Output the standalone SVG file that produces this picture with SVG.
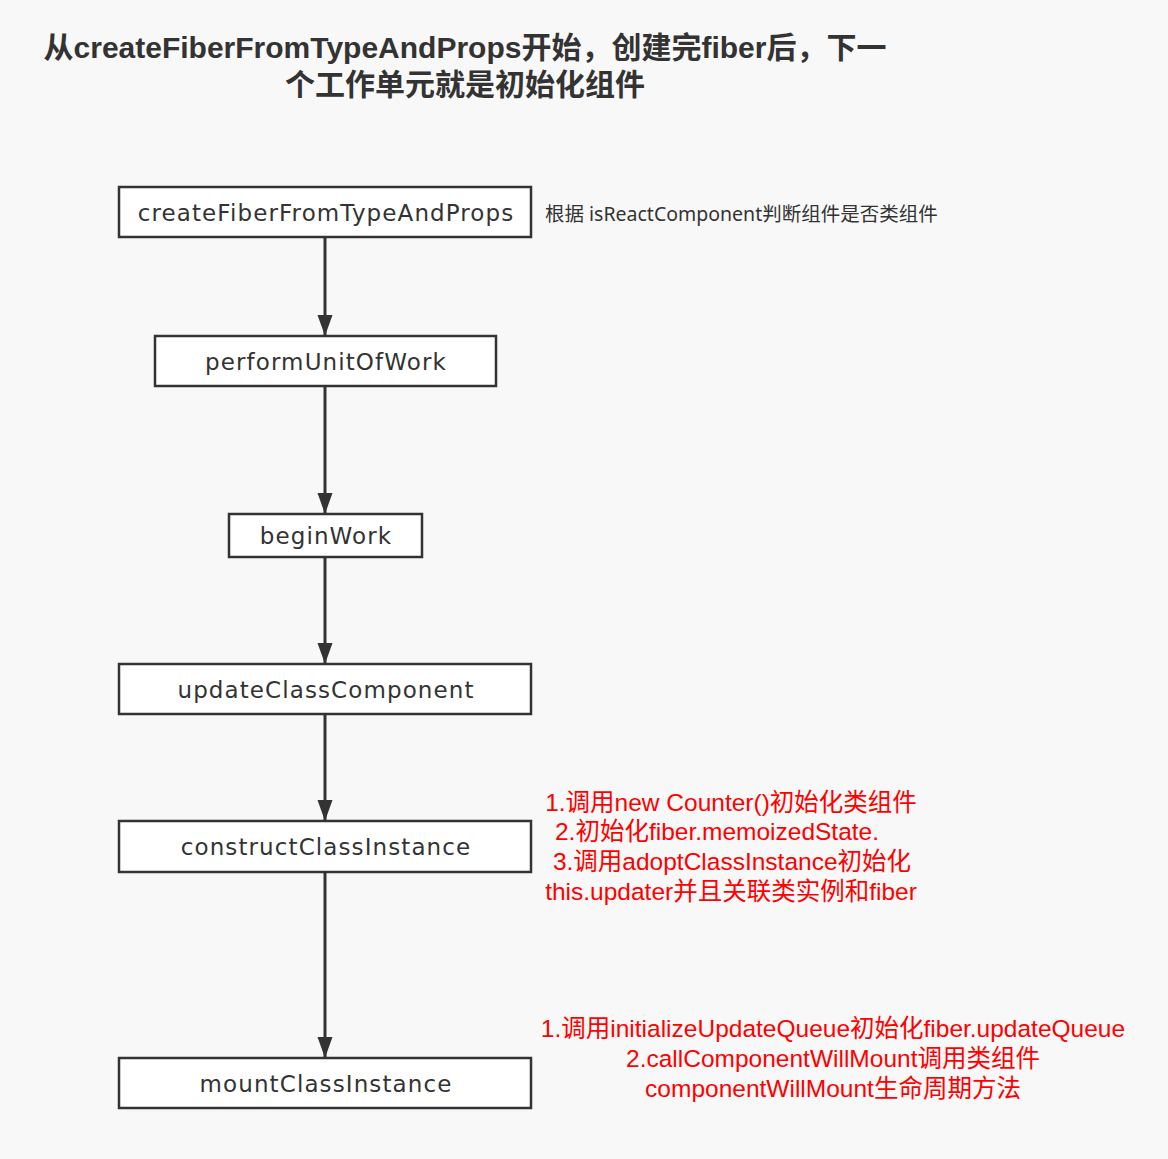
<svg xmlns="http://www.w3.org/2000/svg" width="1168" height="1159" viewBox="0 0 1168 1159">
<style>
.bg{fill:#f8f8f8}
.box{fill:#ffffff;stroke:#333333;stroke-width:2.5}
.lbl{font-family:"DejaVu Sans","Noto Sans CJK SC",sans-serif;font-size:23px;letter-spacing:1.1px;fill:#333333;text-anchor:middle;dominant-baseline:central}
.title{font-family:"Liberation Sans","Noto Sans CJK SC",sans-serif;font-size:30px;font-weight:bold;fill:#333333;text-anchor:middle}
.note{font-family:"Noto Sans","Noto Sans CJK SC",sans-serif;font-size:19.5px;fill:#333333;dominant-baseline:central}
.red{font-family:"Liberation Sans","Noto Sans CJK SC",sans-serif;font-size:24.5px;fill:#ff0000;text-anchor:middle;dominant-baseline:central}
.conn{stroke:#333333;stroke-width:3;fill:none;marker-end:url(#arr)}
</style>
<defs>
<marker id="arr" markerUnits="userSpaceOnUse" markerWidth="21" markerHeight="16" refX="21" refY="8" orient="auto" viewBox="0 0 21 16">
<path d="M0,0.5 L21,8 L0,15.5 z" fill="#333333"/>
</marker>
</defs>
<rect class="bg" x="0" y="0" width="1168" height="1159"/>
<g id="title">
<text class="title" x="465" y="58">从createFiberFromTypeAndProps开始，创建完fiber后，下一</text>
<text class="title" x="465" y="95">个工作单元就是初始化组件</text>
</g>
<g id="connectors">
<line class="conn" x1="325" y1="237" x2="325" y2="336"/>
<line class="conn" x1="325" y1="386" x2="325" y2="514"/>
<line class="conn" x1="325" y1="557" x2="325" y2="664"/>
<line class="conn" x1="325" y1="714" x2="325" y2="821"/>
<line class="conn" x1="325" y1="872" x2="325" y2="1058"/>
</g>
<g id="createFiberFromTypeAndProps">
<rect class="box" x="119" y="187" width="412" height="50"/>
<text class="lbl" x="326" y="213">createFiberFromTypeAndProps</text>
</g>
<g id="note1">
<text class="note" x="545" y="213">根据 isReactComponent判断组件是否类组件</text>
</g>
<g id="performUnitOfWork">
<rect class="box" x="155" y="336" width="341" height="50"/>
<text class="lbl" x="326" y="362">performUnitOfWork</text>
</g>
<g id="beginWork">
<rect class="box" x="229" y="514" width="193" height="43"/>
<text class="lbl" x="326" y="536">beginWork</text>
</g>
<g id="updateClassComponent">
<rect class="box" x="119" y="664" width="412" height="50"/>
<text class="lbl" x="326" y="690">updateClassComponent</text>
</g>
<g id="constructClassInstance">
<rect class="box" x="119" y="821" width="412" height="51"/>
<text class="lbl" x="326" y="847">constructClassInstance</text>
</g>
<g id="note2">
<text class="red" x="731" y="802">1.调用new Counter()初始化类组件</text>
<text class="red" x="717" y="831">2.初始化fiber.memoizedState.</text>
<text class="red" x="732" y="861">3.调用adoptClassInstance初始化</text>
<text class="red" x="731" y="891">this.updater并且关联类实例和fiber</text>
</g>
<g id="mountClassInstance">
<rect class="box" x="119" y="1058" width="412" height="50"/>
<text class="lbl" x="326" y="1084">mountClassInstance</text>
</g>
<g id="note3">
<text class="red" x="833" y="1028">1.调用initializeUpdateQueue初始化fiber.updateQueue</text>
<text class="red" x="833" y="1058">2.callComponentWillMount调用类组件</text>
<text class="red" x="833" y="1088">componentWillMount生命周期方法</text>
</g>
</svg>
